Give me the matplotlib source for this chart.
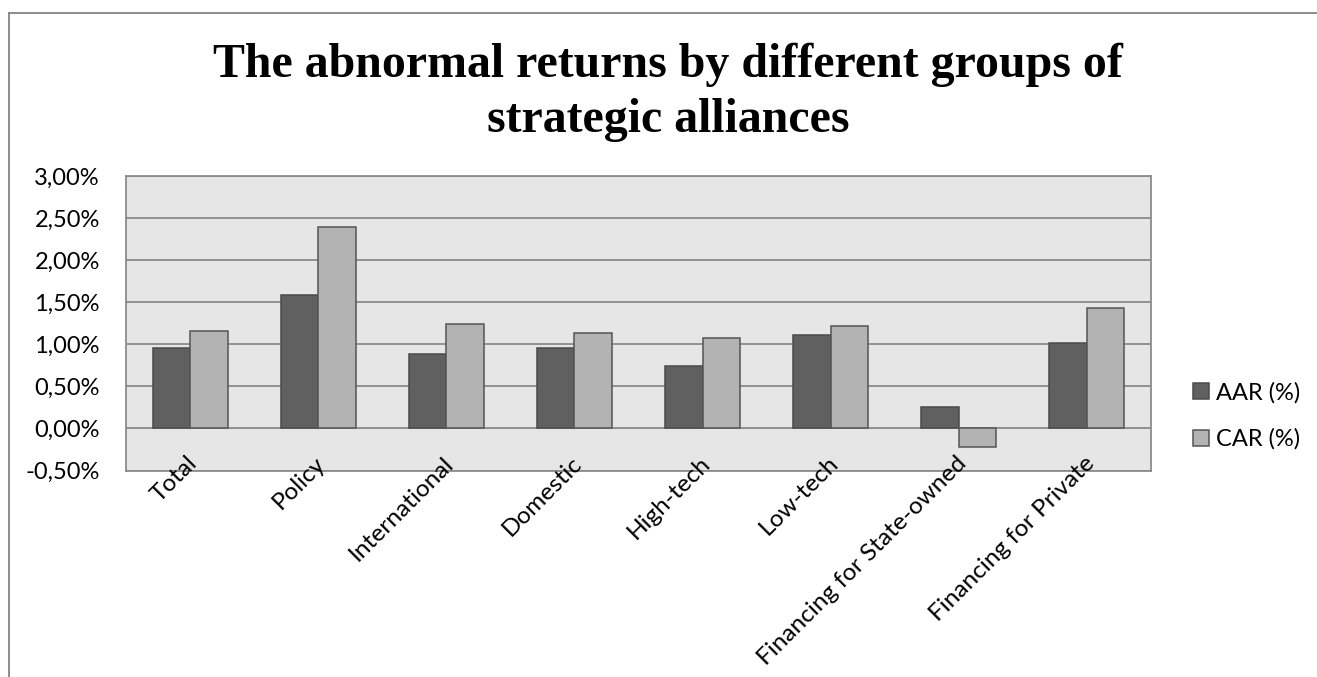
import matplotlib
matplotlib.use("Agg")
import matplotlib.pyplot as plt
import matplotlib.transforms as mtransforms
from matplotlib.ticker import FuncFormatter, MultipleLocator
from matplotlib.patches import Patch
from matplotlib.lines import Line2D
import numpy as np

categories = ["Total", "Policy", "International", "Domestic", "High-tech",
              "Low-tech", "Financing for State-owned", "Financing for Private"]
aar = [0.96, 1.59, 0.89, 0.95, 0.74, 1.11, 0.25, 1.02]
car = [1.16, 2.39, 1.24, 1.14, 1.08, 1.22, -0.22, 1.43]
series_names = ["AAR (%)", "CAR (%)"]
title_lines = ["The abnormal returns by different groups of", "strategic alliances"]

W, H = 1317, 677
fig = plt.figure(figsize=(W / 100, H / 100), dpi=100)
fig.patch.set_facecolor("white")

FONT = "Lato"
FS = 17

# chart border (left & top visible)
fig.add_artist(Line2D([9 / W, 9 / W], [0, 1 - 13 / H], transform=fig.transFigure,
                      color="#8c8c8c", lw=1.4))
fig.add_artist(Line2D([9 / W, 1], [1 - 13 / H, 1 - 13 / H], transform=fig.transFigure,
                      color="#8c8c8c", lw=1.4))

left, right, top, bottom = 126, 1151, 176, 470.5
ax = fig.add_axes([left / W, 1 - bottom / H, (right - left) / W, (bottom - top) / H])
ax.set_facecolor("#e6e6e6")

x = np.arange(len(categories))
bw = 0.293
ax.bar(x - bw / 2, aar, width=bw, color="#606060", edgecolor="#4a4a4a", linewidth=1.1,
       zorder=3, label=series_names[0])
ax.bar(x + bw / 2, car, width=bw, color="#b3b3b3", edgecolor="#555555", linewidth=1.1,
       zorder=3, label=series_names[1])

ax.set_xlim(-0.5, len(categories) - 0.5)
ax.set_ylim(-0.5, 3.0)
ax.yaxis.set_major_locator(MultipleLocator(0.5))
ax.yaxis.set_major_formatter(FuncFormatter(lambda v, p: f"{v:.2f}".replace(".", ",") + "%"))
ax.grid(axis="y", color="#8a8a8a", linewidth=1.3, zorder=1)
ax.set_axisbelow(True)
for s in ax.spines.values():
    s.set_color("#8c8c8c")
    s.set_linewidth(1.3)
ax.tick_params(axis="y", length=0, pad=26 * 0.72, labelsize=FS)
ax.tick_params(axis="x", length=0, labelbottom=False)
for lab in ax.get_yticklabels():
    lab.set_fontfamily(FONT)

# x category labels rotated 45 degrees
trans = mtransforms.blended_transform_factory(ax.transData, fig.transFigure)
offset = mtransforms.ScaledTranslation(4 / 100, 0, fig.dpi_scale_trans)
for i, c in enumerate(categories):
    ax.text(i, 1 - 460 / H, c, transform=trans + offset, rotation=45,
            rotation_mode="anchor", ha="right", va="center",
            fontsize=17.6, fontfamily=FONT, color="black")

# title
fig.text(668 / W, 1 - 77 / H, title_lines[0], ha="center", va="baseline",
         fontsize=34.5, fontweight="bold", fontfamily="Liberation Serif")
fig.text(668 / W, 1 - 132 / H, title_lines[1], ha="center", va="baseline",
         fontsize=34.5, fontweight="bold", fontfamily="Liberation Serif")

# legend
handles = [Patch(facecolor="#606060", edgecolor="#4a4a4a", linewidth=1.1),
           Patch(facecolor="#b3b3b3", edgecolor="#555555", linewidth=1.1)]
leg = fig.legend(handles, series_names, loc="center left",
                 bbox_to_anchor=(1193 / W, 1 - 416 / H), frameon=False,
                 prop={"family": FONT, "size": FS}, handlelength=0.68,
                 handleheight=0.68, handletextpad=0.3, labelspacing=1.06,
                 borderaxespad=0, borderpad=0)

fig.savefig("out.png", dpi=100, facecolor="white")
